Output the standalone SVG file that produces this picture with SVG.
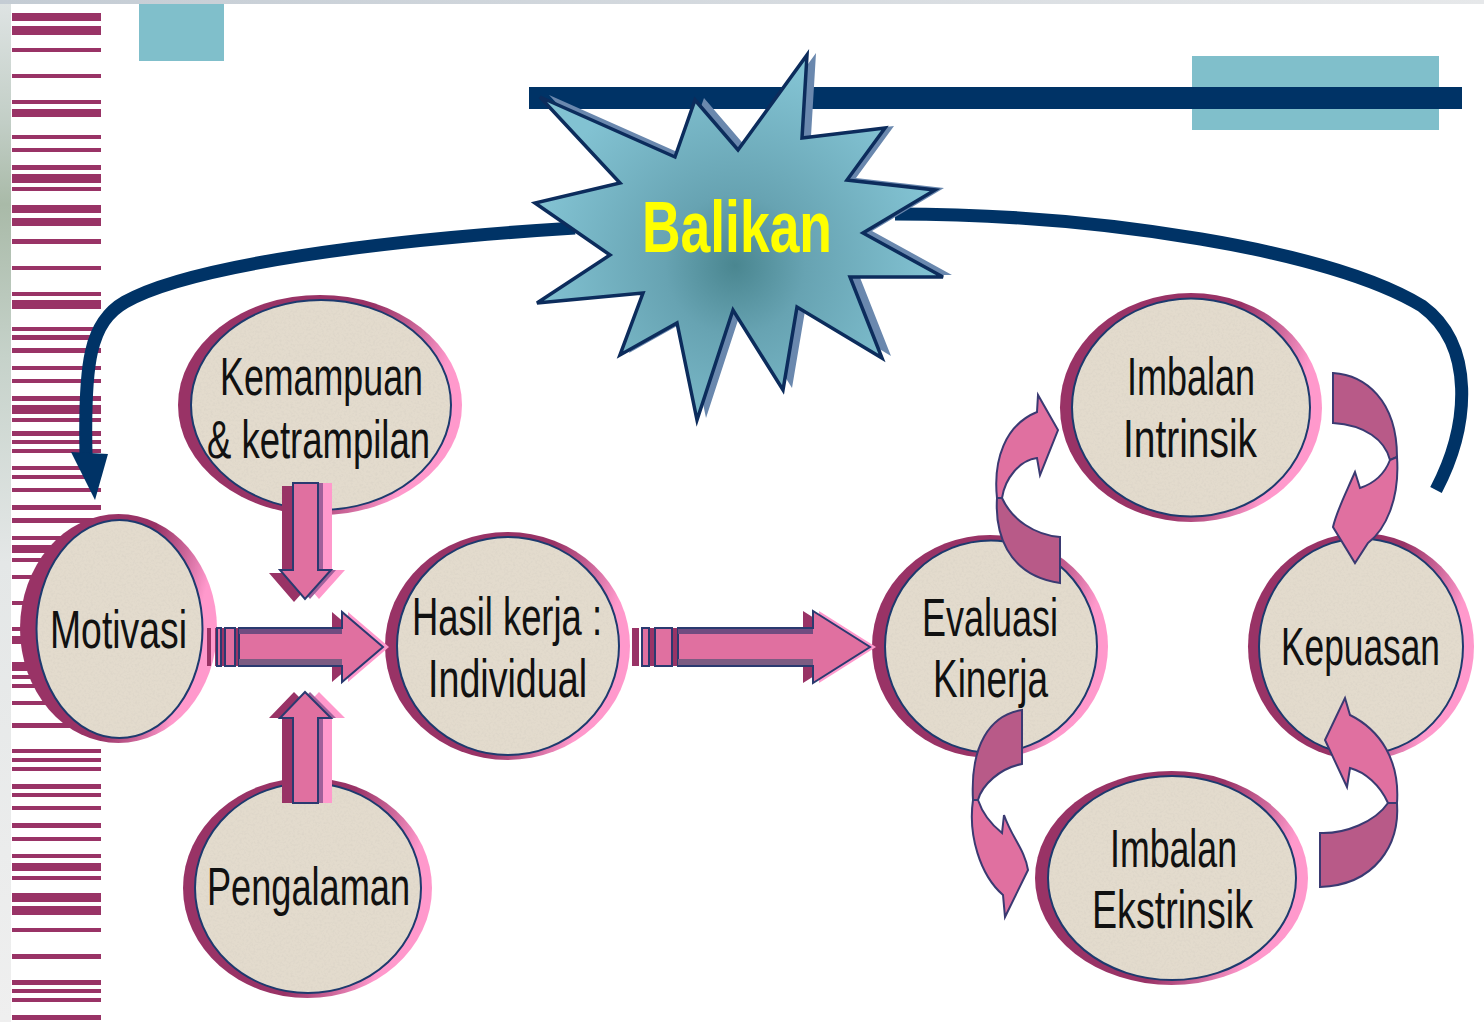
<svg xmlns="http://www.w3.org/2000/svg" width="1484" height="1022" viewBox="0 0 1484 1022">
<defs>
<style>
.stripe{fill:#993366}
.teal{fill:#80bfcb}
.ring{fill:url(#ringG)}
.face{fill:#e3dbcd;filter:url(#grain)}
.edge{fill:none;stroke:#1d3a6e;stroke-width:2}
.lbl{font-family:"Liberation Sans Narrow","Liberation Sans",Arial,sans-serif;font-size:54px;fill:#111;text-anchor:middle}
.fb{fill:none;stroke:#003366;stroke-width:13}
.fbh{fill:#003366}
.a-dark{fill:#993366}
.a-light{fill:#ff99cc}
.a-mid{fill:#a0609a}
.a-front{fill:#e070a0;stroke:#2a3a70;stroke-width:2;stroke-linejoin:miter}
.band-t{fill:#704c80}
.band-b{fill:#7c5c82}
.c-back{fill:#b85a88;stroke:#3a3a72;stroke-width:2}
.c-front{fill:#e070a0;stroke:#3a3a72;stroke-width:2}
</style>
<linearGradient id="ringG" x1="0" y1="0.35" x2="1" y2="0.65">
<stop offset="0" stop-color="#993366"/>
<stop offset="0.55" stop-color="#993366"/>
<stop offset="0.72" stop-color="#cc6699"/>
<stop offset="0.86" stop-color="#ff99cc"/>
<stop offset="1" stop-color="#ff99cc"/>
</linearGradient>
<linearGradient id="leftG" x1="0" y1="0" x2="0" y2="1">
<stop offset="0" stop-color="#dfe4e4"/>
<stop offset="0.12" stop-color="#c2cec6"/>
<stop offset="0.2" stop-color="#a9baa8"/>
<stop offset="0.35" stop-color="#c6d2ca"/>
<stop offset="0.55" stop-color="#e4e7e7"/>
<stop offset="1" stop-color="#efefef"/>
</linearGradient>
<linearGradient id="topG" x1="0" y1="0" x2="1" y2="0">
<stop offset="0" stop-color="#c4ccd4"/>
<stop offset="1" stop-color="#e6e8ea"/>
</linearGradient>
<radialGradient id="starG" gradientUnits="userSpaceOnUse" cx="735" cy="265" r="200">
<stop offset="0" stop-color="#4a8690"/>
<stop offset="0.35" stop-color="#67a3b2"/>
<stop offset="1" stop-color="#82c2d2"/>
</radialGradient>
<filter id="grain" x="0%" y="0%" width="100%" height="100%">
<feTurbulence type="fractalNoise" baseFrequency="0.45" numOctaves="2" seed="7" result="noise"/>
<feColorMatrix in="noise" type="matrix" values="0 0 0 0 0.68  0 0 0 0 0.63  0 0 0 0 0.55  1.2 0 0 0 -0.5" result="spots"/>
<feComposite in="spots" in2="SourceAlpha" operator="in" result="sp"/>
<feMerge><feMergeNode in="SourceGraphic"/><feMergeNode in="sp"/></feMerge>
</filter>
<path id="arrR1" d="M239 628 L342 628 L342 612 L383 647 L342 682 L342 666 L239 666 Z M217 628 h4 v38 h-4 Z M225 628 h10 v38 h-10 Z"/>
<path id="arrR2" d="M678 628 L813 628 L813 611 L870 647 L813 683 L813 666 L678 666 Z M642 628 h7 v38 h-7 Z M655 628 h17 v38 h-17 Z"/>
<path id="arrD" d="M293 483 L318 483 L318 570 L331 570 L305 599 L280 570 L293 570 Z"/>
<path id="arrU" d="M293 803 L318 803 L318 718 L331 718 L305 692 L280 718 L293 718 Z"/>
<polygon id="starP" points="540,97 675,157 695,100 738,150 807,55 802,138 885,128 847,180 935,190 863,233 943,277 850,277 882,358 797,307 783,390 733,310 697,420 677,323 620,355 643,293 537,303 610,255 535,203 620,183"/>
</defs>

<rect width="1484" height="1022" fill="#ffffff"/>
<rect x="0" y="0" width="11" height="1022" fill="url(#leftG)"/>
<rect x="0" y="0" width="1484" height="4" fill="url(#topG)"/>

<g id="stripes">
<rect class="stripe" x="12" y="13" width="89" height="8"/>
<rect class="stripe" x="12" y="26" width="89" height="9"/>
<rect class="stripe" x="12" y="48" width="89" height="4"/>
<rect class="stripe" x="12" y="74" width="89" height="4"/>
<rect class="stripe" x="12" y="100" width="89" height="4"/>
<rect class="stripe" x="12" y="109" width="89" height="8"/>
<rect class="stripe" x="12" y="135" width="89" height="4"/>
<rect class="stripe" x="12" y="148" width="89" height="4"/>
<rect class="stripe" x="12" y="165" width="89" height="5"/>
<rect class="stripe" x="12" y="174" width="89" height="9"/>
<rect class="stripe" x="12" y="187" width="89" height="4"/>
<rect class="stripe" x="12" y="205" width="89" height="8"/>
<rect class="stripe" x="12" y="218" width="89" height="8"/>
<rect class="stripe" x="12" y="239" width="89" height="5"/>
<rect class="stripe" x="12" y="266" width="89" height="4"/>
<rect class="stripe" x="12" y="292" width="89" height="4"/>
<rect class="stripe" x="12" y="300" width="89" height="9"/>
<rect class="stripe" x="12" y="327" width="89" height="4"/>
<rect class="stripe" x="12" y="335" width="89" height="5"/>
<rect class="stripe" x="12" y="348" width="89" height="5"/>
<rect class="stripe" x="12" y="366" width="89" height="4"/>
<rect class="stripe" x="12" y="379" width="89" height="4"/>
<rect class="stripe" x="12" y="396" width="89" height="5"/>
<rect class="stripe" x="12" y="405" width="89" height="9"/>
<rect class="stripe" x="12" y="418" width="89" height="4"/>
<rect class="stripe" x="12" y="431" width="89" height="5"/>
<rect class="stripe" x="12" y="440" width="89" height="4"/>
<rect class="stripe" x="12" y="449" width="89" height="4"/>
<rect class="stripe" x="12" y="466" width="89" height="4"/>
<rect class="stripe" x="12" y="475" width="89" height="4"/>
<rect class="stripe" x="12" y="488" width="89" height="4"/>
<rect class="stripe" x="12" y="505" width="89" height="5"/>
<rect class="stripe" x="12" y="518" width="89" height="5"/>
<rect class="stripe" x="12" y="536" width="89" height="4"/>
<rect class="stripe" x="12" y="545" width="89" height="8"/>
<rect class="stripe" x="12" y="558" width="89" height="4"/>
<rect class="stripe" x="12" y="575" width="89" height="4"/>
<rect class="stripe" x="12" y="601" width="89" height="4"/>
<rect class="stripe" x="12" y="627" width="89" height="4"/>
<rect class="stripe" x="12" y="636" width="89" height="8"/>
<rect class="stripe" x="12" y="662" width="89" height="9"/>
<rect class="stripe" x="12" y="675" width="89" height="4"/>
<rect class="stripe" x="12" y="684" width="89" height="4"/>
<rect class="stripe" x="12" y="701" width="89" height="4"/>
<rect class="stripe" x="12" y="723" width="89" height="5"/>
<rect class="stripe" x="12" y="749" width="89" height="4"/>
<rect class="stripe" x="12" y="758" width="89" height="4"/>
<rect class="stripe" x="12" y="767" width="89" height="4"/>
<rect class="stripe" x="12" y="784" width="89" height="5"/>
<rect class="stripe" x="12" y="793" width="89" height="4"/>
<rect class="stripe" x="12" y="806" width="89" height="4"/>
<rect class="stripe" x="12" y="823" width="89" height="5"/>
<rect class="stripe" x="12" y="837" width="89" height="4"/>
<rect class="stripe" x="12" y="854" width="89" height="4"/>
<rect class="stripe" x="12" y="863" width="89" height="8"/>
<rect class="stripe" x="12" y="876" width="89" height="4"/>
<rect class="stripe" x="12" y="893" width="89" height="9"/>
<rect class="stripe" x="12" y="906" width="89" height="9"/>
<rect class="stripe" x="12" y="928" width="89" height="4"/>
<rect class="stripe" x="12" y="954" width="89" height="5"/>
<rect class="stripe" x="12" y="980" width="89" height="5"/>
<rect class="stripe" x="12" y="989" width="89" height="4"/>
<rect class="stripe" x="12" y="998" width="89" height="4"/>
<rect class="stripe" x="12" y="1015" width="89" height="5"/>
</g>

<g id="decor">
<rect class="teal" x="139" y="4" width="85" height="57"/>
<rect class="teal" x="1192" y="56" width="247" height="74"/>
<rect x="529" y="87" width="933" height="22" fill="#003366"/>
</g>

<g id="node-kemampuan">
<ellipse class="ring" cx="320" cy="405" rx="142" ry="110"/>
<ellipse class="face" cx="321" cy="405" rx="130" ry="105"/>
<ellipse class="edge" cx="321" cy="405" rx="130" ry="105"/>
<text class="lbl" x="321.5" y="395" textLength="203" lengthAdjust="spacingAndGlyphs">Kemampuan</text>
<text class="lbl" x="318.5" y="458" textLength="223" lengthAdjust="spacingAndGlyphs">&amp; ketrampilan</text>
</g>

<g id="node-motivasi">
<ellipse class="ring" cx="118.5" cy="628.5" rx="98.5" ry="114.5"/>
<ellipse class="face" cx="119.5" cy="629" rx="83" ry="109"/>
<ellipse class="edge" cx="119.5" cy="629" rx="83" ry="109"/>
<text class="lbl" x="118.5" y="648" textLength="137" lengthAdjust="spacingAndGlyphs">Motivasi</text>
</g>

<g id="node-hasil">
<ellipse class="ring" cx="507.5" cy="646" rx="122.5" ry="114"/>
<ellipse class="face" cx="508" cy="646" rx="111" ry="109"/>
<ellipse class="edge" cx="508" cy="646" rx="111" ry="109"/>
<text class="lbl" x="507" y="635" textLength="190" lengthAdjust="spacingAndGlyphs">Hasil kerja :</text>
<text class="lbl" x="507.5" y="697" textLength="159" lengthAdjust="spacingAndGlyphs">Individual</text>
</g>

<g id="node-pengalaman">
<ellipse class="ring" cx="307.5" cy="888" rx="124.5" ry="110"/>
<ellipse class="face" cx="308" cy="888" rx="113" ry="105"/>
<ellipse class="edge" cx="308" cy="888" rx="113" ry="105"/>
<text class="lbl" x="308.5" y="905" textLength="203" lengthAdjust="spacingAndGlyphs">Pengalaman</text>
</g>

<g id="node-evaluasi">
<ellipse class="ring" cx="990" cy="646.5" rx="118" ry="111.5"/>
<ellipse class="face" cx="991" cy="646.5" rx="106" ry="106"/>
<ellipse class="edge" cx="991" cy="646.5" rx="106" ry="106"/>
<text class="lbl" x="990" y="636" textLength="136" lengthAdjust="spacingAndGlyphs">Evaluasi</text>
<text class="lbl" x="990.5" y="697" textLength="115" lengthAdjust="spacingAndGlyphs">Kinerja</text>
</g>

<g id="node-imbalan-intrinsik">
<ellipse class="ring" cx="1191" cy="407.5" rx="131" ry="114.5"/>
<ellipse class="face" cx="1191" cy="407.5" rx="119" ry="109"/>
<ellipse class="edge" cx="1191" cy="407.5" rx="119" ry="109"/>
<text class="lbl" x="1191" y="395" textLength="128" lengthAdjust="spacingAndGlyphs">Imbalan</text>
<text class="lbl" x="1190" y="457" textLength="134" lengthAdjust="spacingAndGlyphs">Intrinsik</text>
</g>

<g id="node-kepuasan">
<ellipse class="ring" cx="1361" cy="646.5" rx="113" ry="113.5"/>
<ellipse class="face" cx="1361" cy="646.5" rx="102" ry="108"/>
<ellipse class="edge" cx="1361" cy="646.5" rx="102" ry="108"/>
<text class="lbl" x="1360.5" y="665" textLength="159" lengthAdjust="spacingAndGlyphs">Kepuasan</text>
</g>

<g id="node-imbalan-ekstrinsik">
<ellipse class="ring" cx="1171.5" cy="878" rx="136.5" ry="107"/>
<ellipse class="face" cx="1172" cy="878" rx="124" ry="102"/>
<ellipse class="edge" cx="1172" cy="878" rx="124" ry="102"/>
<text class="lbl" x="1173.5" y="867" textLength="127" lengthAdjust="spacingAndGlyphs">Imbalan</text>
<text class="lbl" x="1172.5" y="928" textLength="161" lengthAdjust="spacingAndGlyphs">Ekstrinsik</text>
</g>

<g id="connectors">
<path class="fb" d="M575 228 C 380 240, 190 265, 125 302 C 90 322, 84 362, 86 455"/>
<polygon class="fbh" points="71,452 108,454 95,500"/>
<path class="fb" d="M895 214 C 1100 214, 1330 250, 1422 306 C 1475 345, 1470 425, 1436 490"/>

<g>
<use href="#arrR1" class="a-light" transform="translate(6,0)"/>
<use href="#arrR1" class="a-dark" transform="translate(-10,0)"/>
<use href="#arrR1" class="a-front"/>
<rect class="band-t" x="239" y="629" width="103" height="5"/>
<rect class="band-b" x="239" y="659" width="103" height="6"/>
</g>
<g>
<use href="#arrD" class="a-light" transform="translate(14,0)"/>
<use href="#arrD" class="a-mid" transform="translate(5,0)"/>
<use href="#arrD" class="a-dark" transform="translate(-11,3)"/>
<use href="#arrD" class="a-front"/>
</g>
<g>
<use href="#arrU" class="a-light" transform="translate(14,0)"/>
<use href="#arrU" class="a-mid" transform="translate(5,0)"/>
<use href="#arrU" class="a-dark" transform="translate(-11,0)"/>
<use href="#arrU" class="a-front"/>
</g>
<g>
<use href="#arrR2" class="a-light" transform="translate(6,0)"/>
<use href="#arrR2" class="a-dark" transform="translate(-10,0)"/>
<use href="#arrR2" class="a-front"/>
<rect class="band-t" x="678" y="629" width="135" height="5"/>
<rect class="band-b" x="678" y="659" width="135" height="6"/>
</g>

<path class="c-back" d="M997 498 C 995 530, 1005 575, 1060 583 L 1060 537 C 1035 535, 1012 520, 1002 498 Z"/>
<path class="c-front" d="M997 498 C 993 460, 1005 425, 1037 412 L 1038 395 L 1058 430 L 1040 475 L 1037 458 C 1020 460, 1005 478, 1002 498 Z"/>
<path class="c-back" d="M1022 710 C 990 715, 970 745, 973 800 L 978 800 C 982 785, 1000 768, 1022 764 Z"/>
<path class="c-front" d="M973 800 C 968 835, 980 875, 1003 895 L 1005 917 L 1028 870 C 1025 850, 1012 838, 1004 815 L 1002 833 C 992 825, 983 815, 978 800 Z"/>
<path class="c-back" d="M1333 373 C 1365 375, 1397 400, 1397 457 L 1390 460 C 1385 440, 1365 425, 1333 423 Z"/>
<path class="c-front" d="M1397 457 C 1400 500, 1385 530, 1368 543 L 1355 563 L 1333 527 C 1337 510, 1345 495, 1355 472 L 1360 488 C 1375 483, 1385 473, 1390 460 Z"/>
<path class="c-back" d="M1320 833 C 1345 834, 1375 822, 1388 803 L 1397 803 C 1400 845, 1375 885, 1320 887 Z"/>
<path class="c-front" d="M1397 803 C 1400 760, 1380 730, 1350 715 L 1345 698 L 1325 740 L 1347 787 L 1350 768 C 1365 772, 1380 785, 1388 803 Z"/>
</g>

<g id="node-balikan">
<use href="#starP" transform="translate(9,-2)" fill="#6a88ae"/>
<use href="#starP" fill="url(#starG)" stroke="#0c2c5c" stroke-width="3.5" stroke-linejoin="miter"/>
<text x="737" y="252" font-family="'Liberation Sans',Arial,sans-serif" font-weight="bold" font-size="72" fill="#ffff00" text-anchor="middle" textLength="190" lengthAdjust="spacingAndGlyphs">Balikan</text>
</g>
</svg>
